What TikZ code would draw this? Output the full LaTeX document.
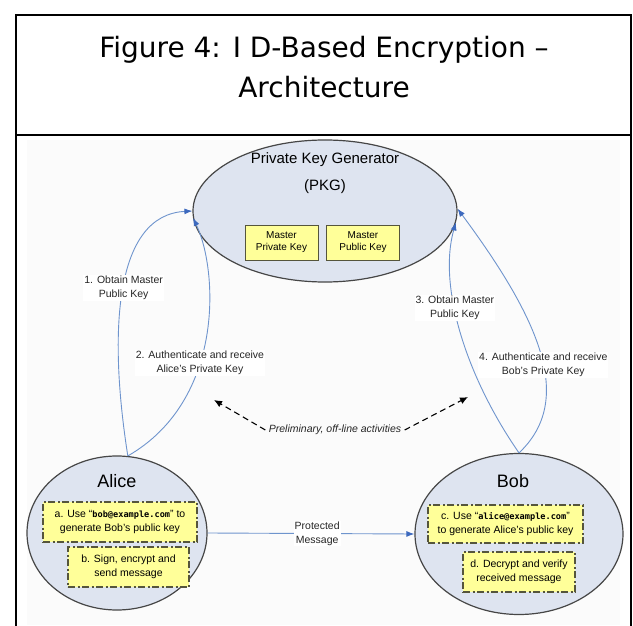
\documentclass[tikz,border=0pt]{standalone}
\usepackage{fontspec}
\setmainfont{Liberation Sans}
\newfontfamily\titlefont{DejaVu Sans}
\newfontfamily\mailfont{DejaVu Sans Mono}
\usetikzlibrary{arrows.meta,shapes.geometric}
\definecolor{ovalfill}{RGB}{222,228,240}
\definecolor{ovaldraw}{RGB}{70,70,70}
\definecolor{keyfill}{RGB}{255,255,153}
\definecolor{keydraw}{RGB}{85,85,60}
\definecolor{flow}{RGB}{110,148,205}
\definecolor{flowtip}{RGB}{60,105,190}
\tikzstyle{party}=[ellipse, draw=ovaldraw, fill=ovalfill, line width=1.2pt]
\tikzstyle{keybox}=[draw=keydraw, fill=keyfill, line width=0.9pt, align=center, inner sep=2pt, minimum width=73pt, minimum height=35pt, font=\fontsize{10}{12}\selectfont]
\tikzstyle{taskbox}=[keybox, line width=1.6pt, dash pattern=on 7pt off 2.5pt on 2pt off 2.5pt, font=\fontsize{10.5}{14}\selectfont]
\tikzstyle{lbl}=[fill=white, align=center, inner sep=1pt, text=black!85, font=\fontsize{10.5}{14}\selectfont]
\tikzstyle{flowline}=[->, draw=flow, line width=0.9pt]
\newcommand{\mail}[1]{{\mailfont\bfseries\fontsize{8.6}{10}\selectfont #1}}

\begin{document}
\begin{tikzpicture}[x=1pt,y=-1pt,>={Latex[length=8pt,width=6pt,color=flowtip]}]
  \useasboundingbox (0,0) rectangle (633,626);
  % frame and heading
  \fill[black!1.5] (27,140) rectangle (620,625);
  \draw[line width=1.5pt] (16,626) -- (16,15) -- (631,15) -- (631,626);
  \draw[line width=2pt] (16,135) -- (631,135);
  \node[anchor=north, inner sep=0pt, align=center, font=\titlefont\fontsize{28}{40}\selectfont] (title) at (324,36) {Figure 4: I D-Based Encryption –\\Architecture};

  % key generator
  \node[party, minimum width=264pt, minimum height=142pt] (p) at (325,211) {};
  \node[anchor=north, inner sep=0pt, align=center, font=\fontsize{15}{27}\selectfont] (pname) at (325,152) {Private Key Generator\\(PKG)};
  \node[keybox] (mpriv) at (281.5,242.5) {Master\\Private Key};
  \node[keybox] (mpub) [right of=mpriv, node distance=81.5pt] {Master\\Public Key};

  % sender
  \node[party, minimum width=180pt, minimum height=154pt] (a) at (117,533) {};
  \node[font=\fontsize{18}{20}\selectfont] (aname) at (117,481) {Alice};
  \node[taskbox, minimum width=154pt, minimum height=40pt] (ta) at (120,522) {a. Use “\mail{bob@example.com}” to\\generate Bob’s public key};
  \node[taskbox, minimum width=121pt, minimum height=40pt] (tb) at (128.5,567) {b. Sign, encrypt and\\send message};

  % receiver
  \node[party, minimum width=208pt, minimum height=161pt] (b) at (519,534) {};
  \node[font=\fontsize{18}{20}\selectfont] (bname) at (513,481) {Bob};
  \node[taskbox, minimum width=155pt, minimum height=38pt] (tc) at (505.5,524) {c. Use “\mail{alice@example.com}”\\to generate Alice’s public key};
  \node[taskbox, minimum width=112pt, minimum height=40pt] (td) at (519,572) {d. Decrypt and verify\\received message};

  % key requests
  \draw[flowline] (a.82) .. controls (108,330) and (115,215) .. (p.west) node[lbl, pos=.5] {1. Obtain Master\\Public Key};
  \draw[flowline] (a.82) .. controls (225,400) and (218,270) .. (p.183) node[lbl, pos=.4] {2. Authenticate and receive\\Alice’s Private Key};
  \draw[flowline] (b.north) .. controls (465,375) and (438,285) .. (p.355) node[lbl, pos=.6] {3. Obtain Master\\Public Key};
  \draw[flowline] (b.north) .. controls (575,400) and (540,320) .. (p.1) node[lbl, pos=.45] {4. Authenticate and receive\\Bob’s Private Key};

  % message
  \draw[flowline] (a.east) -- (b.west) node[lbl, pos=.53] {Protected\\Message};

  % off-line phase
  \node[font=\itshape\fontsize{10.5}{12}\selectfont, text=black!85] (pre) at (335,430) {Preliminary, off-line activities};
  \coordinate (pl) at (214,400);
  \coordinate (pr) at (468,397);
  \draw[-{Latex[length=8pt,width=7pt]}, dash pattern=on 6pt off 4pt, line width=1.1pt] (pre.west) -- (pl);
  \draw[-{Latex[length=8pt,width=7pt]}, dash pattern=on 6pt off 4pt, line width=1.1pt] (pre.east) -- (pr);
\end{tikzpicture}
\end{document}
